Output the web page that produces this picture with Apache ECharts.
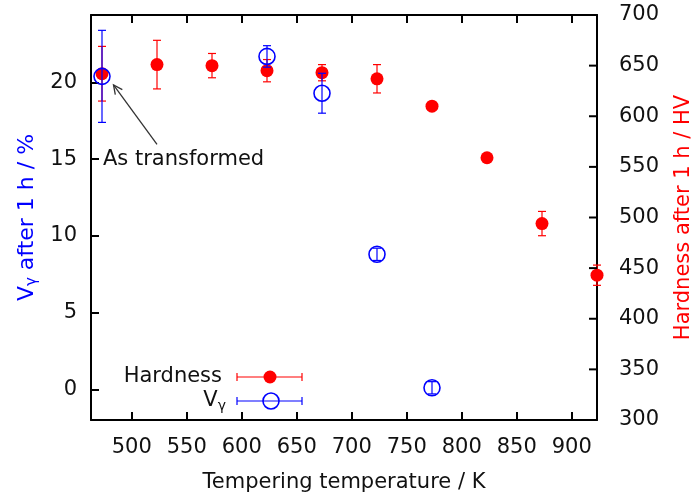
<!DOCTYPE html>
<html><head><meta charset="utf-8">
<script src="https://cdn.jsdelivr.net/npm/echarts@6/dist/echarts.min.js"></script>
<style>html,body{margin:0;padding:0;background:#fff}#c{width:695px;height:497px}</style>
</head><body><div id="c"></div>
<script>
// ---- data ----
const temps = [473, 523, 573, 623, 673, 723, 773, 823, 873, 923];
const hardness = [642, 651, 650, 645, 643, 637, 610, 559, 494, 443];
const hardnessErr = [27, 24, 12, 11, 8, 14, 2, 2, 12, 10];
const vTemps = [473, 623, 673, 723, 773];
const vGamma = [20.4, 21.7, 19.3, 8.8, 0.1];
const vErr = [3.0, 0.7, 1.3, 0.4, 0.4];
const xTicks = [500, 550, 600, 650, 700, 750, 800, 850, 900];
const vTicks = [0, 5, 10, 15, 20];
const hTicks = [300, 350, 400, 450, 500, 550, 600, 650, 700];
const hardnessRange = [300, 700];
const vRange = [-2, 24.4];
const xRange = [463, 923];

const FONT = 'DejaVu Sans';
const RED = '#ff0000', BLUE = '#0000ff', AX = '#000';

const chart = echarts.init(document.getElementById('c'), null, {renderer: 'canvas'});

function errRender(color) {
  return function (params, api) {
    const x = api.value(0), y = api.value(1), e = api.value(2);
    const p0 = api.coord([x, y - e]), p1 = api.coord([x, y + e]);
    const hw = 4;
    const st = {stroke: color, lineWidth: 1.2};
    return {type: 'group', children: [
      {type: 'line', shape: {x1: p0[0], y1: p0[1], x2: p1[0], y2: p1[1]}, style: st},
      {type: 'line', shape: {x1: p0[0] - hw, y1: p0[1], x2: p0[0] + hw, y2: p0[1]}, style: st},
      {type: 'line', shape: {x1: p1[0] - hw, y1: p1[1], x2: p1[0] + hw, y2: p1[1]}, style: st}
    ]};
  };
}

function axisLine() { return {show: true, onZero: false, lineStyle: {color: AX, width: 2}}; }
function ticks(extra) {
  return Object.assign({show: true, inside: true, length: 8, lineStyle: {color: AX, width: 2}}, extra || {});
}
const labelStyle = {color: '#111', fontFamily: FONT, fontSize: 21};

const hardData = temps.map((t, i) => [t, hardness[i], hardnessErr[i]]);
const vData = vTemps.map((t, i) => [t, vGamma[i], vErr[i]]);

chart.setOption({
  animation: false,
  backgroundColor: '#fff',
  grid: {left: 91, right: 98, top: 15, bottom: 77, outerBoundsMode: 'none', containLabel: false},
  xAxis: [{
    type: 'value', min: xRange[0], max: xRange[1], position: 'bottom',
    axisLine: axisLine(),
    axisTick: ticks({customValues: xTicks}),
    axisLabel: Object.assign({margin: 17, customValues: xTicks}, labelStyle),
    splitLine: {show: false},
    name: 'Tempering temperature / K', nameLocation: 'middle', nameGap: 52,
    nameTextStyle: {color: '#111', fontFamily: FONT, fontSize: 21}
  }, {
    type: 'value', min: xRange[0], max: xRange[1], position: 'top',
    axisLine: axisLine(),
    axisTick: ticks({customValues: xTicks}),
    axisLabel: {show: false}, splitLine: {show: false}
  }],
  yAxis: [{
    type: 'value', min: vRange[0], max: vRange[1], position: 'left',
    axisLine: axisLine(),
    axisTick: ticks({customValues: vTicks}),
    axisLabel: Object.assign({margin: 14, customValues: vTicks}, labelStyle),
    splitLine: {show: false},
    name: '{v|V}{s|γ}{v| after 1 h / %}', nameLocation: 'middle', nameGap: 42,
    nameTextStyle: {color: BLUE, fontFamily: FONT, fontSize: 22,
      rich: {v: {color: BLUE, fontFamily: FONT, fontSize: 22},
             s: {color: BLUE, fontFamily: FONT, fontSize: 15, padding: [10, 0, 0, 0]}}}
  }, {
    type: 'value', min: hardnessRange[0], max: hardnessRange[1], interval: 50, position: 'right',
    axisLine: axisLine(),
    axisTick: {show: false},
    axisLabel: Object.assign({margin: 22}, labelStyle),
    splitLine: {show: false},
    name: 'Hardness after 1 h / HV', nameLocation: 'middle', nameGap: 76,
    nameTextStyle: {color: RED, fontFamily: FONT, fontSize: 21}
  }],
  series: [{
    type: 'custom', name: 'hardErr', xAxisIndex: 0, yAxisIndex: 1, clip: false,
    renderItem: errRender(RED), data: hardData, z: 2
  }, {
    type: 'scatter', name: 'Hardness', xAxisIndex: 0, yAxisIndex: 1, clip: false,
    symbol: 'circle', symbolSize: 13, itemStyle: {color: RED, opacity: 1},
    data: hardData.map(d => [d[0], d[1]]), z: 3
  }, {
    type: 'custom', name: 'vErr', xAxisIndex: 0, yAxisIndex: 0, clip: false,
    renderItem: errRender(BLUE), data: vData, z: 4
  }, {
    type: 'scatter', name: 'Vγ', xAxisIndex: 0, yAxisIndex: 0, clip: false,
    symbol: 'circle', symbolSize: 16,
    itemStyle: {color: 'rgba(0,0,0,0)', borderColor: BLUE, borderWidth: 1.6, opacity: 1},
    data: vData.map(d => [d[0], d[1]]), z: 5
  }]
});

// inward ticks on the right (hardness) axis, placed through the axis scale
const xRight = chart.convertToPixel({xAxisIndex: 0}, xRange[1]);
const rightTicks = hTicks.map(v => {
  const y = chart.convertToPixel({yAxisIndex: 1}, v);
  return {type: 'line', shape: {x1: xRight - 8, y1: y, x2: xRight, y2: y}, style: {stroke: AX, lineWidth: 2}, z: 10};
});

// annotation + legend
const pt = chart.convertToPixel({xAxisIndex: 0, yAxisIndex: 0}, [vTemps[0], vGamma[0]]);
const head = [pt[0] + 11.5, pt[1] + 8.5];
const tail = [pt[0] + 55, pt[1] + 68];
const ang = Math.atan2(head[1] - tail[1], head[0] - tail[0]);
const aL = 10, aW = 0.45;
const a1 = [head[0] - aL * Math.cos(ang - aW), head[1] - aL * Math.sin(ang - aW)];
const a2 = [head[0] - aL * Math.cos(ang + aW), head[1] - aL * Math.sin(ang + aW)];

function legendItem(y, color, filled) {
  const x0 = 237, x1 = 302, xc = 270;
  const st = {stroke: color, lineWidth: 1.2};
  return [
    {type: 'line', shape: {x1: x0, y1: y, x2: x1, y2: y}, style: st},
    {type: 'line', shape: {x1: x0, y1: y - 4, x2: x0, y2: y + 4}, style: st},
    {type: 'line', shape: {x1: x1, y1: y - 4, x2: x1, y2: y + 4}, style: st},
    filled
      ? {type: 'circle', shape: {cx: xc, cy: y, r: 6.5}, style: {fill: color}}
      : {type: 'circle', shape: {cx: xc + 1, cy: y, r: 8}, style: {fill: 'rgba(0,0,0,0)', stroke: color, lineWidth: 1.6}}
  ];
}

chart.setOption({
  graphic: [
    {type: 'line', shape: {x1: tail[0], y1: tail[1], x2: head[0], y2: head[1]}, style: {stroke: '#333', lineWidth: 1.3}, z: 10},
    {type: 'polyline', shape: {points: [a1, head, a2]}, style: {stroke: '#333', lineWidth: 1.3, fill: null}, z: 10},
    {type: 'text', x: 103, y: 160, style: {text: 'As transformed', fill: '#111', font: '21px "DejaVu Sans"', textAlign: 'left', textVerticalAlign: 'middle'}, z: 10},
    {type: 'text', x: 222, y: 377, style: {text: 'Hardness', fill: '#111', font: '21px "DejaVu Sans"', textAlign: 'right', textVerticalAlign: 'middle'}, z: 10},
    {type: 'text', x: 226, y: 401, style: {
      text: '{v|V}{s|γ}', textAlign: 'right', textVerticalAlign: 'middle',
      rich: {v: {fill: '#111', fontFamily: FONT, fontSize: 21}, s: {fill: '#111', fontFamily: FONT, fontSize: 14, padding: [10, 0, 0, 0]}}
    }, z: 10}
  ].concat(rightTicks)
   .concat(legendItem(377, RED, true).map(e => Object.assign(e, {z: 10})))
   .concat(legendItem(401, BLUE, false).map(e => Object.assign(e, {z: 10})))
});
</script>
</body></html>
